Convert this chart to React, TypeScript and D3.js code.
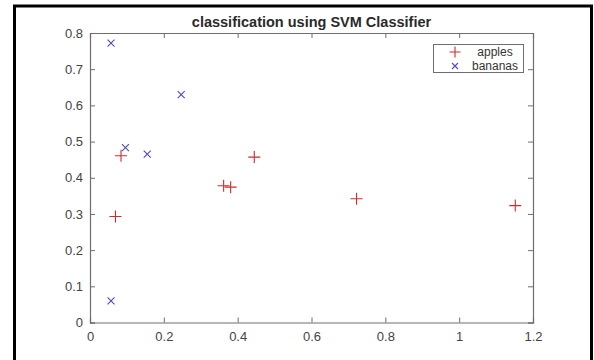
import { useEffect, useRef } from 'react';
import * as d3 from 'd3';

const appleX = [0.084, 0.069, 0.362, 0.381, 0.445, 0.722, 1.152];
const appleY = [0.461, 0.293, 0.378, 0.374, 0.457, 0.342, 0.323];
const bananaX = [0.057, 0.096, 0.155, 0.247, 0.057];
const bananaY = [0.772, 0.483, 0.465, 0.63, 0.06];
const xTicks = [0, 0.2, 0.4, 0.6, 0.8, 1, 1.2];
const yTicks = [0, 0.1, 0.2, 0.3, 0.4, 0.5, 0.6, 0.7, 0.8];
const seriesNames = ['apples', 'bananas'];

const RED = '#d42a2a';
const BLUE = '#4a4ac4';
const AXIS = '#6e6e6e';
const FONT = 'Liberation Sans, Arial, sans-serif';

export default function App() {
  const ref = useRef<SVGSVGElement>(null);

  useEffect(() => {
    const svg = d3.select(ref.current);
    svg.selectAll('*').remove();

    const width = 594;
    const height = 360;
    const margin = { top: 33, right: 61, bottom: 37.5, left: 90 };
    const x = d3.scaleLinear().domain([0, 1.2]).range([margin.left, width - margin.right]);
    const y = d3.scaleLinear().domain([0, 0.8]).range([height - margin.bottom, margin.top]);

    // outer figure frame
    svg
      .append('rect')
      .attr('x', 14.5)
      .attr('y', 6)
      .attr('width', 577)
      .attr('height', 380)
      .attr('fill', 'none')
      .attr('stroke', '#000')
      .attr('stroke-width', 3);

    const fmt = (d: d3.NumberValue) => d3.format('~g')(+d);
    const [x0, x1] = x.range();
    const [y0, y1] = y.range();

    const axes = [
      svg.append('g').attr('transform', `translate(0,${y0})`).call(d3.axisBottom(x).tickValues(xTicks).tickFormat(fmt).tickSize(-5).tickPadding(9)),
      svg.append('g').attr('transform', `translate(0,${y1})`).call(d3.axisTop(x).tickValues(xTicks).tickFormat(() => '').tickSize(-5)),
      svg.append('g').attr('transform', `translate(${x0},0)`).call(d3.axisLeft(y).tickValues(yTicks).tickFormat(fmt).tickSize(-5).tickPadding(7)),
      svg.append('g').attr('transform', `translate(${x1},0)`).call(d3.axisRight(y).tickValues(yTicks).tickFormat(() => '').tickSize(-5)),
    ];
    axes.forEach((g) => {
      g.select('.domain').attr('stroke', AXIS).attr('stroke-width', 1.2);
      g.selectAll('.tick line').attr('stroke', AXIS);
      g.selectAll('.tick text').attr('fill', '#444').attr('font-size', 13).attr('font-family', FONT);
    });

    // title
    svg
      .append('text')
      .attr('x', (x0 + x1) / 2)
      .attr('y', 27)
      .attr('text-anchor', 'middle')
      .attr('font-family', FONT)
      .attr('font-weight', 'bold')
      .attr('font-size', 14.5)
      .attr('fill', '#2a2a2a')
      .text('classification using SVM Classifier');

    const plus = (g: d3.Selection<SVGGElement, unknown, null, undefined>, cx: number, cy: number, s: number, c: string) => {
      g.append('path')
        .attr('d', `M${cx - s},${cy}H${cx + s}M${cx},${cy - s}V${cy + s}`)
        .attr('stroke', c)
        .attr('stroke-width', 1.1)
        .attr('fill', 'none');
    };
    const cross = (g: d3.Selection<SVGGElement, unknown, null, undefined>, cx: number, cy: number, s: number, c: string) => {
      g.append('path')
        .attr('d', `M${cx - s},${cy - s}L${cx + s},${cy + s}M${cx - s},${cy + s}L${cx + s},${cy - s}`)
        .attr('stroke', c)
        .attr('stroke-width', 1.1)
        .attr('fill', 'none');
    };

    const marks = svg.append('g');
    appleX.forEach((v, i) => plus(marks, x(v), y(appleY[i]), 6, RED));
    bananaX.forEach((v, i) => cross(marks, x(v), y(bananaY[i]), 3.5, BLUE));

    // legend
    const lg = svg.append('g');
    lg.append('rect')
      .attr('x', 433.5)
      .attr('y', 44.5)
      .attr('width', 90)
      .attr('height', 28)
      .attr('fill', '#fff')
      .attr('stroke', AXIS)
      .attr('stroke-width', 1);
    seriesNames.forEach((name, i) => {
      const cy = 52 + i * 14;
      if (i === 0) plus(lg, 455, cy, 5.5, RED);
      else cross(lg, 455, cy, 3, BLUE);
      lg.append('text')
        .attr('x', 495)
        .attr('y', cy)
        .attr('dy', '0.35em')
        .attr('text-anchor', 'middle')
        .attr('font-family', FONT)
        .attr('font-size', 12)
        .attr('fill', '#333')
        .text(name);
    });
  }, []);

  return (
    <svg
      ref={ref}
      width={594}
      height={360}
      style={{ position: 'absolute', left: 0, top: 0, background: '#fff' }}
    />
  );
}
